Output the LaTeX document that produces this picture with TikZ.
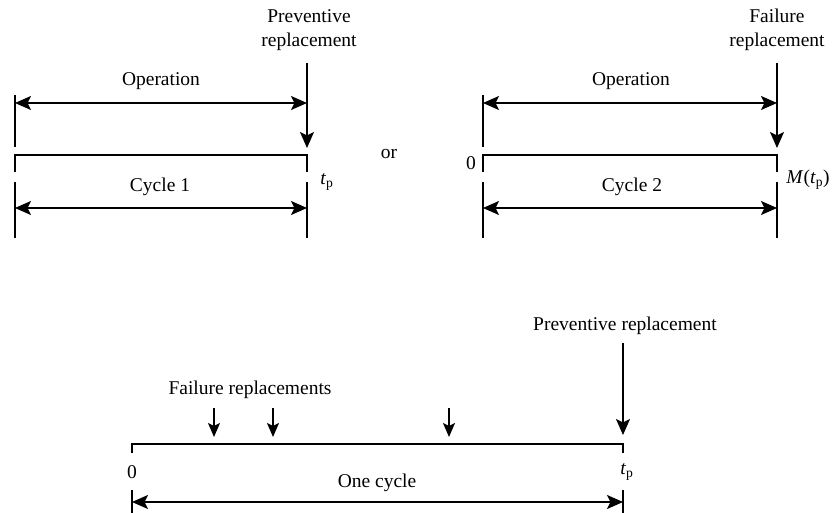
\documentclass[tikz,border=0pt]{standalone}
\usepackage{fontspec}
\setmainfont{Liberation Serif}
\usetikzlibrary{arrows.meta}
\newcommand{\tpsub}{\textit{t}\textsubscript{p}}
\begin{document}
\begin{tikzpicture}[x=1pt,y=-1pt,
  line width=1.8pt,
  lbl/.style={font=\fontsize{19.5}{23}\selectfont, inner sep=0pt, align=center},
  arr/.style={-{Stealth[length=16pt,width=14pt,inset=3.5pt]}},
  dbl/.style={{Stealth[length=16pt,width=14pt,inset=3.5pt]}-{Stealth[length=16pt,width=14pt,inset=3.5pt]}},
  farr/.style={-{Stealth[length=14pt,width=12pt,inset=3pt]}}]
\useasboundingbox (0,0) rectangle (836,513);

% ---- Cycle 1: ends with a preventive replacement at t_p ----
\coordinate (a1t) at (15,95);   \coordinate (a1b) at (15,147);
\coordinate (a2t) at (307,63);  \coordinate (a2b) at (307,148);
\draw (a1t) -- (a1b);
\draw[arr] (a2t) -- (a2b);
\coordinate (ao1) at (15,103);  \coordinate (ao2) at (307,103);
\draw[dbl] (ao1) -- (ao2);
\coordinate (ab1) at (15,172);  \coordinate (ab2) at (15,155);
\coordinate (ab3) at (307,155); \coordinate (ab4) at (307,172);
\draw (ab1) -- (ab2) -- (ab3) -- (ab4);
\coordinate (al1t) at (15,182);  \coordinate (al1b) at (15,238);
\coordinate (al2t) at (307,182); \coordinate (al2b) at (307,238);
\draw (al1t) -- (al1b);
\draw (al2t) -- (al2b);
\coordinate (ac1) at (15,208);  \coordinate (ac2) at (307,208);
\draw[dbl] (ac1) -- (ac2);
\node[lbl] (opA) at (161,81) {Operation};
\node[lbl] (cyA) at (160,187) {Cycle 1};
\node[lbl] (prA) at (309,30) {Preventive\\[1pt]replacement};
\node[lbl] (tpA) at (327,182) {\tpsub};

\node[lbl] (or) at (389,154) {or};

% ---- Cycle 2: ends with a failure replacement at M(t_p) ----
\coordinate (b1t) at (483,95);  \coordinate (b1b) at (483,147);
\coordinate (b2t) at (777,63);  \coordinate (b2b) at (777,148);
\draw (b1t) -- (b1b);
\draw[arr] (b2t) -- (b2b);
\coordinate (bo1) at (483,103); \coordinate (bo2) at (777,103);
\draw[dbl] (bo1) -- (bo2);
\coordinate (bb1) at (483,172); \coordinate (bb2) at (483,155);
\coordinate (bb3) at (777,155); \coordinate (bb4) at (777,172);
\draw (bb1) -- (bb2) -- (bb3) -- (bb4);
\coordinate (bl1t) at (483,182); \coordinate (bl1b) at (483,238);
\coordinate (bl2t) at (777,182); \coordinate (bl2b) at (777,238);
\draw (bl1t) -- (bl1b);
\draw (bl2t) -- (bl2b);
\coordinate (bc1) at (483,208); \coordinate (bc2) at (777,208);
\draw[dbl] (bc1) -- (bc2);
\node[lbl] (opB) at (631,81) {Operation};
\node[lbl] (cyB) at (632,187) {Cycle 2};
\node[lbl] (frB) at (777,30) {Failure\\[1pt]replacement};
\node[lbl] (zB) at (471,163) {0};
\node[lbl] (mB) at (808,180) {\textit{M}(\tpsub)};

% ---- One full cycle with failure replacements ----
\coordinate (c1) at (132,453); \coordinate (c2) at (132,444);
\coordinate (c3) at (623,444); \coordinate (c4) at (623,453);
\draw (c1) -- (c2) -- (c3) -- (c4);
\coordinate (cp1) at (623,343); \coordinate (cp2) at (623,435);
\draw[arr] (cp1) -- (cp2);
\foreach \xx/\nm in {214/f1, 273/f2, 449/f3} {
  \coordinate (\nm t) at (\xx,408);
  \coordinate (\nm b) at (\xx,437);
  \draw[farr] (\nm t) -- (\nm b);
}
\coordinate (cl1t) at (132,490); \coordinate (cl1b) at (132,513);
\coordinate (cl2t) at (623,490); \coordinate (cl2b) at (623,513);
\draw (cl1t) -- (cl1b);
\draw (cl2t) -- (cl2b);
\coordinate (cc1) at (132,502); \coordinate (cc2) at (623,502);
\draw[dbl] (cc1) -- (cc2);
\node[lbl] (prC) at (625,326) {Preventive replacement};
\node[lbl] (frC) at (250,390) {Failure replacements};
\node[lbl] (zC) at (132,472) {0};
\node[lbl] (tpC) at (627,472) {\tpsub};
\node[lbl] (oneC) at (377,483) {One cycle};
\end{tikzpicture}
\end{document}
